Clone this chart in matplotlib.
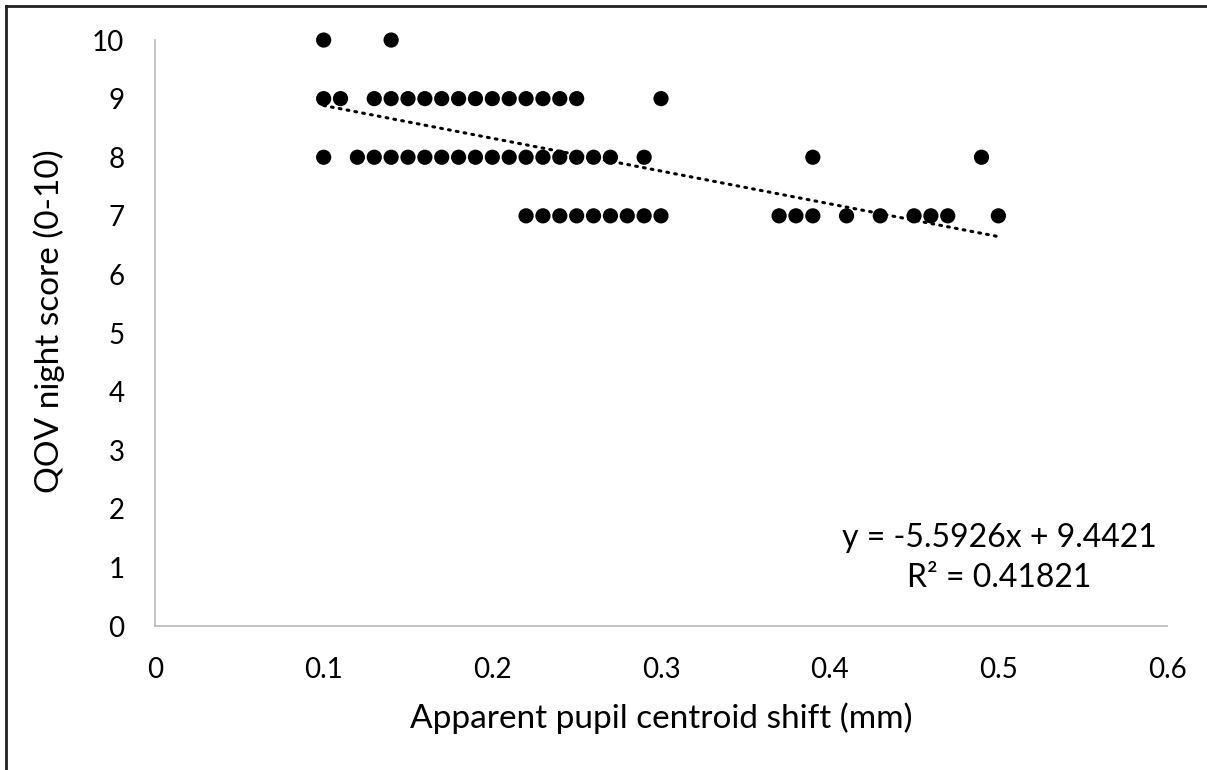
import numpy as np
import matplotlib.pyplot as plt
from matplotlib.lines import Line2D

# Pupil centroid shift (mm) and QOV night score, grouped by score
shift_10 = [0.10, 0.14]
shift_9 = [0.10, 0.11, 0.13, 0.14, 0.15, 0.16, 0.17, 0.18, 0.19, 0.20,
           0.21, 0.22, 0.23, 0.24, 0.25, 0.30]
shift_8 = [0.10, 0.12, 0.13, 0.14, 0.15, 0.16, 0.17, 0.18, 0.19, 0.20,
           0.21, 0.22, 0.23, 0.24, 0.25, 0.26, 0.27, 0.29, 0.39, 0.49]
shift_7 = [0.22, 0.23, 0.24, 0.25, 0.26, 0.27, 0.28, 0.29, 0.30,
           0.37, 0.38, 0.39, 0.41, 0.43, 0.45, 0.46, 0.47, 0.50]

# Linear trend as reported
slope = -5.5926
intercept = 9.4421
r_squared = 0.41821

x_ticks = [0, 0.1, 0.2, 0.3, 0.4, 0.5, 0.6]
y_ticks = list(range(0, 11))

shift = np.array(shift_10 + shift_9 + shift_8 + shift_7)
score = np.array([10] * len(shift_10) + [9] * len(shift_9)
                 + [8] * len(shift_8) + [7] * len(shift_7))

plt.rcParams['font.family'] = ['Lato', 'DejaVu Sans']

fig = plt.figure(figsize=(12.07, 7.70), dpi=100)
ax = fig.add_axes([0.1284, 0.1870, 0.8385, 0.7610])

ax.scatter(shift, score, s=120, color='black', edgecolors='none',
           zorder=3, clip_on=False)

trend_x = np.array([shift.min(), shift.max()])
ax.plot(trend_x, slope * trend_x + intercept, color='black', lw=2.2,
        linestyle=(0, (0.6, 2.0)), dash_capstyle='round', zorder=4)

ax.set_xlim(0, 0.6)
ax.set_ylim(0, 10)
ax.set_xticks(x_ticks)
ax.set_xticklabels([f'{t:g}' for t in x_ticks])
ax.set_yticks(y_ticks)
ax.tick_params(length=0, labelsize=20, colors='black')
ax.tick_params(axis='y', pad=22)
ax.tick_params(axis='x', pad=22)

for side in ('top', 'right'):
    ax.spines[side].set_visible(False)
for side in ('left', 'bottom'):
    ax.spines[side].set_color('#bfbfbf')
    ax.spines[side].set_linewidth(1.3)

ax.set_xlabel('Apparent pupil centroid shift (mm)', fontsize=24, labelpad=14)
ax.set_ylabel('QOV night score (0-10)', fontsize=24)
ax.yaxis.set_label_coords(-0.089, 0.52)

ax.text(0.834, 0.116, f'y = {slope}x + {intercept}\nR² = {r_squared}',
        transform=ax.transAxes, ha='center', va='center', fontsize=23,
        linespacing=1.4)

# Frame lines around the chart area
fig.add_artist(Line2D([6 / 1207, 6 / 1207], [0, 1 - 6 / 770],
                      transform=fig.transFigure, color='#222222', lw=2))
fig.add_artist(Line2D([6 / 1207, 1], [1 - 6 / 770, 1 - 6 / 770],
                      transform=fig.transFigure, color='#222222', lw=2))

fig.savefig('out.png', dpi=100)
